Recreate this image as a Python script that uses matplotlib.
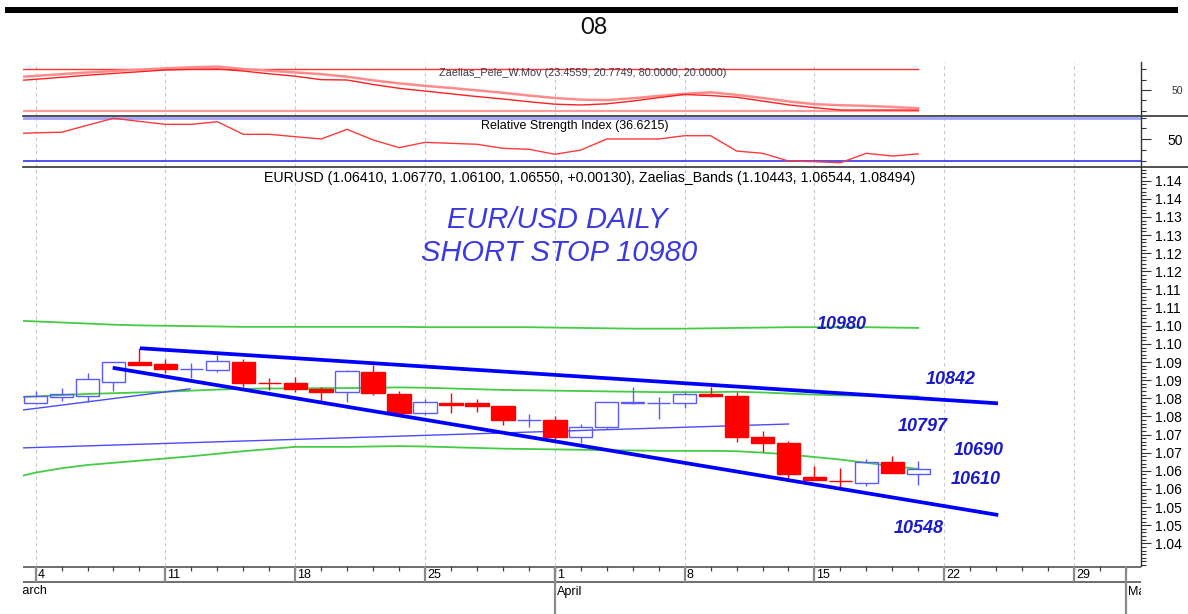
import matplotlib
matplotlib.use("Agg")
import matplotlib.pyplot as plt
from matplotlib.ticker import FixedLocator, MultipleLocator
from matplotlib.lines import Line2D
from matplotlib.patches import Rectangle
import pandas as pd

plt.rcParams['font.family'] = ['Liberation Sans', 'DejaVu Sans']

# ---------------- data ----------------
dates = pd.bdate_range("2024-03-01", "2024-05-03")   # trading days on the x axis
first_candle = 1                                      # Mar 4

opens = [1.0836, 1.0854, 1.0856, 1.0894, 1.0949, 1.0944, 1.0930, 1.0928, 1.0951, 1.0893,
         1.0893, 1.0875, 1.0866, 1.0923, 1.0861, 1.0808, 1.0838, 1.0836, 1.0829, 1.0789,
         1.0789, 1.0744, 1.0772, 1.0837, 1.0836, 1.0838, 1.0862, 1.0857, 1.0742, 1.0727,
         1.0632, 1.0623, 1.0615, 1.0673, 1.0641]
highs = [1.0869, 1.0877, 1.0919, 1.0951, 1.0988, 1.0957, 1.0946, 1.0969, 1.0957, 1.0905,
         1.0909, 1.0880, 1.0928, 1.0942, 1.0870, 1.0847, 1.0865, 1.0847, 1.0829, 1.0807,
         1.0801, 1.0779, 1.0839, 1.0880, 1.0853, 1.0868, 1.0880, 1.0868, 1.0760, 1.0732,
         1.0663, 1.0657, 1.0682, 1.0692, 1.0677]
lows = [1.0836, 1.0843, 1.0840, 1.0870, 1.0942, 1.0919, 1.0905, 1.0923, 1.0882, 1.0873,
        1.0868, 1.0840, 1.0840, 1.0859, 1.0810, 1.0804, 1.0808, 1.0813, 1.0776, 1.0770,
        1.0735, 1.0727, 1.0764, 1.0834, 1.0792, 1.0822, 1.0853, 1.0730, 1.0703, 1.0627,
        1.0625, 1.0604, 1.0608, 1.0643, 1.0610]
closes = [1.0855, 1.0861, 1.0902, 1.0951, 1.0942, 1.0930, 1.0932, 1.0953, 1.0891, 1.0891,
          1.0875, 1.0868, 1.0925, 1.0864, 1.0810, 1.0839, 1.0832, 1.0829, 1.0790, 1.0791,
          1.0744, 1.0770, 1.0839, 1.0839, 1.0838, 1.0862, 1.0856, 1.0744, 1.0727, 1.0641,
          1.0625, 1.0621, 1.0675, 1.0645, 1.0655]

# Zaelias bands, one value per trading day from Mar 1
band_upper = [1.1065, 1.1062, 1.1059, 1.1056, 1.1053, 1.1051, 1.1050, 1.1049, 1.1048, 1.1047,
              1.1047, 1.1047, 1.1047, 1.1047, 1.1047, 1.1047, 1.1046, 1.1046, 1.1046, 1.1046,
              1.1046, 1.1045, 1.1044, 1.1043, 1.1042, 1.1042, 1.1042, 1.1043, 1.1044, 1.1045,
              1.1046, 1.1046, 1.1046, 1.1046, 1.1045, 1.1044]
band_mid = [1.0852, 1.0855, 1.0859, 1.0862, 1.0864, 1.0866, 1.0868, 1.0871, 1.0874, 1.0876,
            1.0877, 1.0877, 1.0878, 1.0878, 1.0879, 1.0880, 1.0879, 1.0877, 1.0875, 1.0873,
            1.0872, 1.0871, 1.0870, 1.0869, 1.0868, 1.0867, 1.0867, 1.0867, 1.0868, 1.0866,
            1.0863, 1.0860, 1.0858, 1.0857, 1.0856, 1.0855]
band_lower = [1.0628, 1.0645, 1.0657, 1.0666, 1.0672, 1.0678, 1.0684, 1.0690, 1.0697, 1.0704,
              1.0710, 1.0716, 1.0716, 1.0716, 1.0717, 1.0718, 1.0717, 1.0715, 1.0713, 1.0711,
              1.0710, 1.0709, 1.0708, 1.0707, 1.0706, 1.0705, 1.0705, 1.0705, 1.0704, 1.0700,
              1.0695, 1.0688, 1.0681, 1.0672, 1.0663, 1.0655]

# Zaelias_Pele_W.Mov
pele_a = [68, 70.5, 73, 75.5, 77.5, 79.5, 81.4, 83, 84, 80.5, 78, 75.5, 73, 69.3, 64, 59.7,
          56, 53, 49.5, 46, 42, 38.5, 36, 35.5, 38, 41.5, 44.5, 46.7, 43, 38.5, 33.5, 29.5,
          28, 27, 25.5, 23.5]
pele_b = [63, 65.5, 68.5, 71.5, 74, 76.5, 79, 80, 80.5, 77.5, 73.5, 70, 65, 64.5, 58, 52.5,
          48.5, 44.5, 40.5, 37, 33, 29.5, 28.3, 30, 34, 39, 43.5, 42, 39.5, 34, 28.5, 24.5,
          21, 21, 21, 20.8]
pele_hi, pele_lo = 80, 20

# RSI
rsi = [55, 56, 56.5, 63, 69.4, 66.5, 63.8, 63.8, 66.2, 54.6, 54.6, 52.4, 50.3, 59.2, 49.4,
       42.3, 47.2, 46.3, 45.4, 41.7, 40.8, 36.2, 40.1, 50.3, 50.3, 50.3, 53.3, 53.3, 39.2,
       37.1, 30, 29.4, 28.4, 37.1, 34.6, 36.6]
rsi_hi, rsi_lo = 70, 30

# hand drawn lines (day index, price)
upper_trend = ([5.02, 38.07], [1.0988, 1.0836])
lower_trend = ([3.97, 38.08], [1.0934, 1.0528])
thin_a = ([0, 6.95], [1.0813, 1.0876])
thin_b = ([0, 30], [1.0712, 1.0779])

price_ticks = [1.145, 1.140, 1.135, 1.130, 1.125, 1.120, 1.115, 1.110, 1.105, 1.100, 1.095,
               1.090, 1.085, 1.080, 1.075, 1.070, 1.065, 1.060, 1.055, 1.050, 1.045]
price_labels = ["1.14", "1.14", "1.13", "1.13", "1.12", "1.12", "1.11", "1.11", "1.10", "1.10",
                "1.09", "1.09", "1.08", "1.08", "1.07", "1.07", "1.06", "1.06", "1.05", "1.05",
                "1.04"]

notes = ["10980", "10842", "10797", "10690", "10610", "10548"]
title_main = ("EURUSD (1.06410, 1.06770, 1.06100, 1.06550, +0.00130), "
              "Zaelias_Bands (1.10443, 1.06544, 1.08494)")
title_rsi = "Relative Strength Index (36.6215)"
title_pele = "Zaelias_Pele_W.Mov (23.4559, 20.7749, 80.0000, 20.0000)"

# ---------------- layout ----------------
W, H = 1188, 614
fig = plt.figure(figsize=(W / 100, H / 100), dpi=100)
fig.patch.set_facecolor("white")


def box(x0, y0, x1, y1):
    return [x0 / W, 1 - y1 / H, (x1 - x0) / W, (y1 - y0) / H]


XL, XR = 22.7, 1141.3
xlim = (0.503, 43.59)
ax1 = fig.add_axes(box(XL, 62, XR, 115.7))
ax2 = fig.add_axes(box(XL, 115.7, XR, 167.3))
ax3 = fig.add_axes(box(XL, 167.3, XR, 566))
ax4 = fig.add_axes(box(XL, 566, XR, 614))

idx = list(range(len(dates)))
mondays = [i for i, d in enumerate(dates) if d.weekday() == 0]
month_starts = [i for i, d in enumerate(dates) if i == 0 or d.month != dates[i - 1].month]

for ax in (ax1, ax2, ax3):
    ax.set_xlim(*xlim)
    for s in ("top", "left", "bottom"):
        ax.spines[s].set_visible(False)
    ax.spines["right"].set_color("#333333")
    ax.spines["right"].set_linewidth(1.0)
    ax.set_xticks([])
    ax.yaxis.tick_right()
    ax.tick_params(axis="y", which="both", direction="out", colors="#333333", width=0.8)
    ax.tick_params(axis="y", which="major", length=7)
    ax.tick_params(axis="y", which="minor", length=3.5)
    for m in mondays:
        ax.axvline(m, color="#c8c8c8", lw=0.8, ls=(0, (3, 3)), zorder=0)

# --- Pele panel
n = len(pele_a)
ax1.set_ylim(12.8, 90.6)
ax1.plot(idx[:n], [pele_hi] * n, color="#ff3030", lw=1.0)
ax1.plot(idx[:n], [pele_lo] * n, color="#ff9a9a", lw=1.6)
ax1.plot(idx[:n], pele_a, color="#ff8c8c", lw=1.8)
ax1.plot(idx[:n], pele_b, color="#ff2020", lw=1.0)
ax1.yaxis.set_major_locator(FixedLocator([50]))
ax1.yaxis.set_minor_locator(FixedLocator([20, 35, 65, 80]))
ax1.tick_params(axis="y", which="major", labelsize=7.5, pad=15, labelcolor="#333333")

# --- RSI panel
ax2.set_ylim(24.2, 71.75)
ax2.axhline(rsi_hi, color="#a0a0ff", lw=2.0)
ax2.axhline(rsi_lo, color="#3333ee", lw=1.2)
ax2.plot(idx[:len(rsi)], rsi, color="#ff3a3a", lw=1.0)
ax2.yaxis.set_major_locator(FixedLocator([50]))
ax2.yaxis.set_minor_locator(FixedLocator([30, 40, 60, 70]))
ax2.tick_params(axis="y", which="major", labelsize=10, pad=12, labelcolor="black")

# --- price panel
ax3.set_ylim(1.03874, 1.14870)
ax3.set_yticks(price_ticks)
ax3.set_yticklabels(price_labels)
ax3.yaxis.set_minor_locator(MultipleLocator(0.001))
ax3.tick_params(axis="y", which="major", labelsize=10, pad=3, labelcolor="black")

nb = len(band_mid)
for band in (band_upper, band_mid, band_lower):
    ax3.plot(idx[:nb], band, color="#44cc44", lw=1.3, zorder=1)
ax3.plot(*thin_a, color="#4a4aff", lw=1.0, zorder=1)
ax3.plot(*thin_b, color="#4a4aff", lw=1.0, zorder=1)

BLUE_C, RED_C = "#5a5aff", "#ff0000"
xs = list(range(first_candle, first_candle + len(opens)))
for x, o, h, l, c in zip(xs, opens, highs, lows, closes):
    up = c >= o
    col = BLUE_C if up else RED_C
    lo, hi = min(o, c), max(o, c)
    ax3.vlines(x, l, lo, color=col, lw=1.0, zorder=2)
    ax3.vlines(x, hi, h, color=col, lw=1.0, zorder=2)
    ax3.bar(x, max(hi - lo, 0.00005), bottom=lo, width=0.9,
            facecolor="none" if up else col, edgecolor=col, lw=1.0, zorder=2)

ax3.plot(*upper_trend, color="#0000ff", lw=2.7, solid_capstyle="butt", zorder=3)
ax3.plot(*lower_trend, color="#0000ff", lw=2.7, solid_capstyle="butt", zorder=3)

note_pos = [(32.06, 1.10548), (36.26, 1.09031), (35.18, 1.07735),
            (37.34, 1.07046), (37.23, 1.06246), (35.03, 1.04922)]
for txt, (nx, ny) in zip(notes, note_pos):
    ax3.text(nx, ny, txt, color="#1a1acc", fontsize=13, fontweight="bold",
             fontstyle="italic", ha="center", va="center", zorder=4)

hand = dict(color="#3a3ae0", fontsize=21, fontstyle="italic", ha="center", va="center",
            family=["Liberation Sans Narrow", "Liberation Sans"])
fig.text(557 / W, 1 - 220 / H, "EUR/USD DAILY", **hand)
fig.text(559 / W, 1 - 253 / H, "SHORT STOP 10980", **hand)

# --- date band (y in pixels)
ax4.set_xlim(*xlim)
ax4.set_ylim(614, 566)
ax4.axis("off")
ax4.axhline(566.5, color="#555555", lw=1.2)
ax4.axhline(582, color="#555555", lw=1.2)
ax4.vlines(idx, 566, 571, color="#444444", lw=0.9)
ax4.vlines(mondays, 566, 582, color="#8a8a8a", lw=1.6)
ax4.vlines(month_starts, 566, 614, color="#8a8a8a", lw=1.6)
for m in mondays:
    ax4.text(m + 0.08, 574.5, str(dates[m].day), fontsize=9, ha="left", va="center",
             clip_on=True)
for m in month_starts:
    ax4.text(m + 0.08, 591.5, dates[m].strftime("%B"), fontsize=9, ha="left",
             va="center", clip_on=True)

# --- frame pieces and titles
fig.add_artist(Rectangle((5 / W, 1 - 13 / H), 1173 / W, 6 / H, transform=fig.transFigure,
                         facecolor="black", edgecolor="none"))
for yy in (115.7, 167.3):
    fig.add_artist(Line2D([XL / W, 1], [1 - yy / H] * 2, transform=fig.transFigure,
                          color="#333333", lw=1.2))
fig.text(594 / W, 1 - 28 / H, "08", fontsize=17, ha="center", va="center",
         family=["Lato", "DejaVu Sans"], color="#111111")
fig.text(582.5 / W, 1 - 72.5 / H, title_pele, fontsize=7.8, color="#3a3a4a",
         ha="center", va="center")
fig.text(575 / W, 1 - 125.5 / H, title_rsi, fontsize=9, ha="center", va="center")
fig.text(590 / W, 1 - 178 / H, title_main, fontsize=10.2, ha="center", va="center")

fig.savefig("out.png", dpi=100)
